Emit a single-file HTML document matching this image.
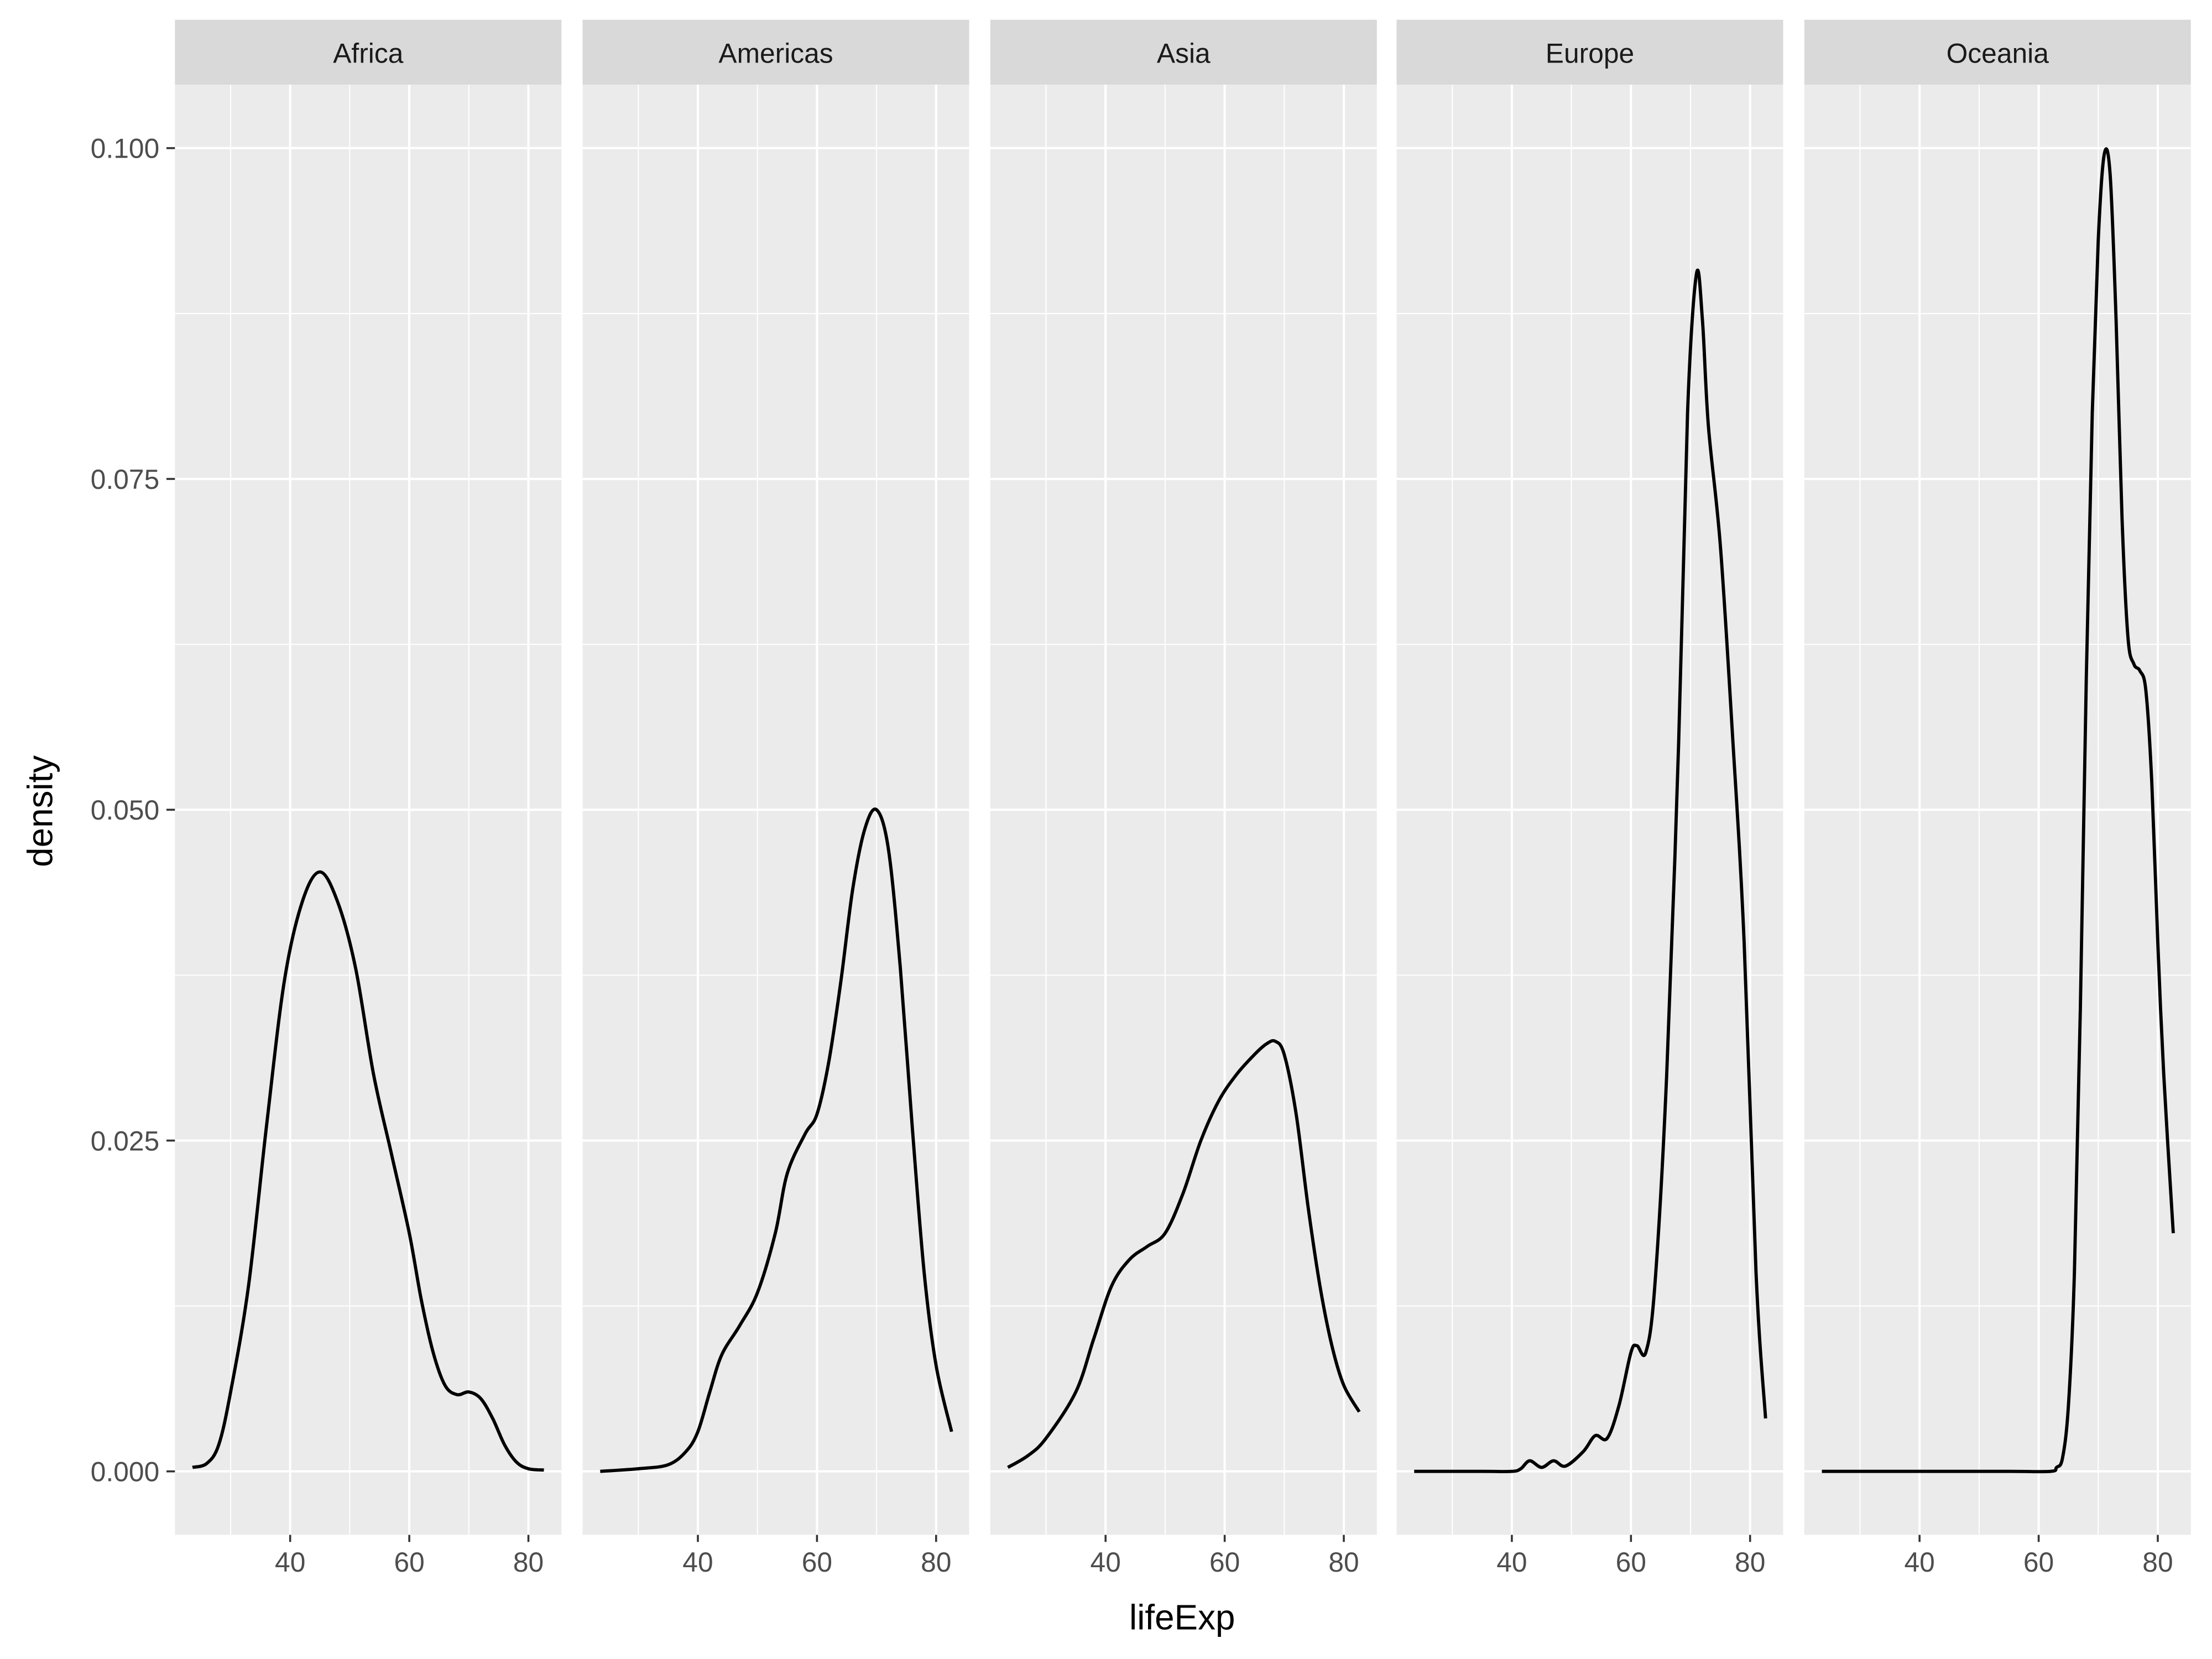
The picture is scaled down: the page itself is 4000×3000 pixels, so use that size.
<!DOCTYPE html>
<html><head><meta charset="utf-8"><style>
html,body{margin:0;padding:0;background:#fff}
svg{display:block}
text{font-family:"Liberation Sans",Arial,sans-serif}
</style></head><body>
<svg id="chart" width="4000" height="3000" viewBox="0 0 1568 1176" xmlns="http://www.w3.org/2000/svg">
<rect x="0" y="0" width="1568" height="1176" fill="#fff"/>
<g id="panels"></g>
<text x="838" y="1155" font-size="25" text-anchor="middle" fill="#000">lifeExp</text>
<text transform="translate(37,575) rotate(-90)" font-size="25" text-anchor="middle" fill="#000">density</text>
</svg>
<script>
const continents = ["Africa","Americas","Asia","Europe","Oceania"];
const xTicks = [40,60,80];
const xMinor = [30,50,70];
const yTicks = [0,0.025,0.05,0.075,0.1];
const yTickLabels = ["0.000","0.025","0.050","0.075","0.100"];
const africaX = [23.6,26,28,30,33,36,39,42,45,48,51,54,57,60,62,64,66,68,70,72,74,76,78,80,82.6];
const africaY = [0.0003,0.0006,0.002,0.006,0.014,0.026,0.037,0.043,0.0453,0.043,0.038,0.030,0.024,0.018,0.013,0.009,0.0065,0.0058,0.006,0.0055,0.004,0.002,0.0007,0.0002,0.0001];
const americasX = [23.6,30,35,38,40,42,44,47,50,53,55,58,60,62,64,66,68,70,72,74,76,78,80,82.6];
const americasY = [0,0.0002,0.0005,0.0015,0.003,0.006,0.0088,0.011,0.0135,0.018,0.0225,0.0255,0.027,0.031,0.037,0.044,0.0485,0.050,0.047,0.038,0.026,0.015,0.008,0.003];
const asiaX = [23.6,27,30,35,38,41,44,47,50,53,56,59,62,65,67,68.5,70,72,74,76,78,80,82.6];
const asiaY = [0.0003,0.0012,0.0025,0.006,0.010,0.014,0.016,0.017,0.018,0.021,0.025,0.028,0.030,0.0315,0.0323,0.0325,0.0315,0.027,0.020,0.014,0.0095,0.0065,0.0045];
const europeX = [23.6,35,40,41.5,43,45,47,49,52,54,56,58,60,61,62.5,64,66,68,69.5,71,72,73,75,77,79,81,82.6];
const europeY = [0,0,0,0.0002,0.0008,0.0003,0.0008,0.0004,0.0015,0.0027,0.0025,0.005,0.009,0.0095,0.009,0.014,0.030,0.055,0.080,0.0905,0.087,0.079,0.070,0.056,0.040,0.015,0.004];
const oceaniaX = [23.6,40,55,62,63,64,65,66,67,68,69,70,71,72,73,74,75,76,77,78,79,80,81,82.6];
const oceaniaY = [0,0,0,0,0.0003,0.001,0.005,0.015,0.035,0.060,0.080,0.093,0.0995,0.098,0.087,0.072,0.063,0.061,0.0605,0.059,0.052,0.040,0.030,0.018];
const seriesX = [africaX,americasX,asiaX,europeX,oceaniaX];
const seriesY = [africaY,americasY,asiaY,europeY,oceaniaY];

const NS="http://www.w3.org/2000/svg";
const panelLefts=[124,413,702,990,1279], panelW=274;
const pTop=60, pBot=1088, stripTop=14;
const xMin=20.65, xMax=85.55;
function yScale(v){return 1043-(v/0.1)*938;}
function xScale(i,v){return panelLefts[i]+(v-xMin)/(xMax-xMin)*panelW;}
function mk(tag,attrs,parent){const e=document.createElementNS(NS,tag);for(const k in attrs)e.setAttribute(k,attrs[k]);parent.appendChild(e);return e;}
const root=document.getElementById('panels');
continents.forEach((c,i)=>{
  const g=mk('g',{},root);
  
  
  const L=panelLefts[i];
  const bg=mk('rect',{x:L,y:pTop,width:panelW,height:pBot-pTop,fill:'#EBEBEB'},g);
  
  
  for(let k=0;k<yTicks.length-1;k++){
    const y=yScale((yTicks[k]+yTicks[k+1])/2);
    const l=mk('line',{x1:L,x2:L+panelW,y1:y,y2:y,stroke:'#fff','stroke-width':0.8},g);
    
    
  }
  xMinor.forEach(v=>{const x=xScale(i,v);
    const l=mk('line',{x1:x,x2:x,y1:pTop,y2:pBot,stroke:'#fff','stroke-width':0.8},g);
    
    });
  yTicks.forEach(v=>{const y=yScale(v);
    const l=mk('line',{x1:L,x2:L+panelW,y1:y,y2:y,stroke:'#fff','stroke-width':1.6},g);
    
    });
  xTicks.forEach(v=>{const x=xScale(i,v);
    const l=mk('line',{x1:x,x2:x,y1:pTop,y2:pBot,stroke:'#fff','stroke-width':1.6},g);
    
    
    const t=mk('line',{x1:x,x2:x,y1:pBot,y2:pBot+5,stroke:'#333','stroke-width':1.4},g);
    
    
    const tx=mk('text',{x:x,y:pBot+26,'font-size':19.5,'text-anchor':'middle',fill:'#4D4D4D'},g);
    tx.textContent=v;
    
    });
  const strip=mk('rect',{x:L,y:stripTop,width:panelW,height:pTop-stripTop,fill:'#D9D9D9'},g);
  
  
  const st=mk('text',{x:L+panelW/2,y:44.5,'font-size':19.5,'text-anchor':'middle',fill:'#1A1A1A'},g);
  st.textContent=c;
  
  
  const xs=seriesX[i], ys=seriesY[i];
  const P=xs.map((v,k)=>[xScale(i,v),yScale(ys[k])]);
  let d='M'+P[0][0]+','+P[0][1];
  for(let k=0;k<P.length-1;k++){
    const p0=P[Math.max(0,k-1)],p1=P[k],p2=P[k+1],p3=P[Math.min(P.length-1,k+2)];
    const c1=[p1[0]+(p2[0]-p0[0])/6,p1[1]+(p2[1]-p0[1])/6];
    const c2=[p2[0]-(p3[0]-p1[0])/6,p2[1]-(p3[1]-p1[1])/6];
    d+=' C'+c1+' '+c2+' '+p2;
  }
  const path=mk('path',{d:d,fill:'none',stroke:'#000','stroke-width':2.3},g);
  
  
});
const svg=document.getElementById('chart');
yTicks.forEach((v,k)=>{const y=yScale(v);
  const t=mk('line',{x1:118,x2:124,y1:y,y2:y,stroke:'#333','stroke-width':1.4},svg);
  
  
  const tx=mk('text',{x:113,y:y+7,'font-size':19.5,'text-anchor':'end',fill:'#4D4D4D'},svg);
  tx.textContent=yTickLabels[k];
  
  });
</script>
</body></html>
